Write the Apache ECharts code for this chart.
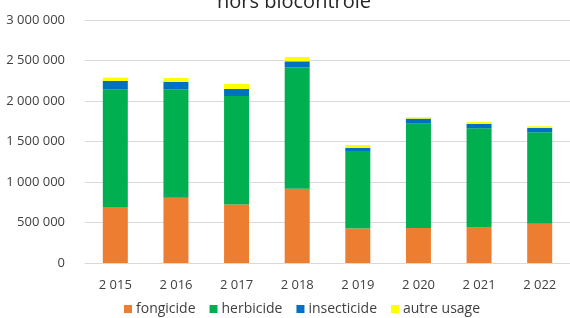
<!DOCTYPE html>
<html>
<head>
<meta charset="utf-8">
<script src="https://cdn.jsdelivr.net/npm/echarts@6/dist/echarts.min.js"></script>
<style>
  html, body { margin: 0; padding: 0; background: #fff; }
  #chart { width: 570px; height: 318px; }
</style>
</head>
<body>
<div id="chart"></div>
<script>
// années (libellés tels qu'affichés)
const years = ['2 015', '2 016', '2 017', '2 018', '2 019', '2 020', '2 021', '2 022']
// quantités par usage
const fongicide = [691000, 807000, 721000, 918000, 425000, 432000, 444000, 486000]
const herbicide = [1453000, 1337000, 1341000, 1494000, 958000, 1289000, 1219000, 1128000]
const insecticide = [103000, 91000, 86000, 78000, 37000, 62000, 53000, 53000]
const autreUsage = [42000, 49000, 62000, 53000, 37000, 16000, 25000, 21000]

const w_color = ['#ED7D31', '#00B050', '#0070C0', '#FFFF00']
const font = 'Open Sans'

function fmt(v) {
  return String(v).replace(/\B(?=(\d{3})+(?!\d))/g, ' ')
}

const chart = echarts.init(document.getElementById('chart'))
chart.setOption({
  color: w_color,
  animation: false,
  title: {
    text: 'hors biocontrôle',
    left: 212,
    top: -13,
    textStyle: { fontFamily: font, fontSize: 20, fontWeight: 'normal', color: '#262626' }
  },
  legend: {
    bottom: -3,
    left: 119,
    itemWidth: 8,
    itemHeight: 8,
    itemGap: 14,
    icon: 'rect',
    textStyle: { fontFamily: font, fontSize: 14, color: '#404040', padding: [0, 0, 0, -1] },
    data: ['fongicide', 'herbicide', 'insecticide', 'autre usage']
  },
  grid: { left: 85, right: 0, top: 20, bottom: 55 },
  xAxis: {
    type: 'category',
    data: years,
    axisTick: { show: false },
    axisLine: { lineStyle: { color: '#d9d9d9', width: 1 } },
    axisLabel: { fontFamily: font, fontSize: 13, color: '#404040', margin: 16 }
  },
  yAxis: {
    type: 'value',
    min: 0,
    max: 3000000,
    interval: 500000,
    axisLine: { show: false },
    axisTick: { show: false },
    splitLine: { lineStyle: { color: '#d9d9d9' } },
    axisLabel: { fontFamily: font, fontSize: 13, color: '#404040', margin: 20, formatter: fmt }
  },
  series: [
    { name: 'fongicide', type: 'bar', stack: 'u', barWidth: 25, data: fongicide },
    { name: 'herbicide', type: 'bar', stack: 'u', barWidth: 25, data: herbicide },
    { name: 'insecticide', type: 'bar', stack: 'u', barWidth: 25, data: insecticide },
    { name: 'autre usage', type: 'bar', stack: 'u', barWidth: 25, data: autreUsage }
  ]
})
</script>
</body>
</html>
